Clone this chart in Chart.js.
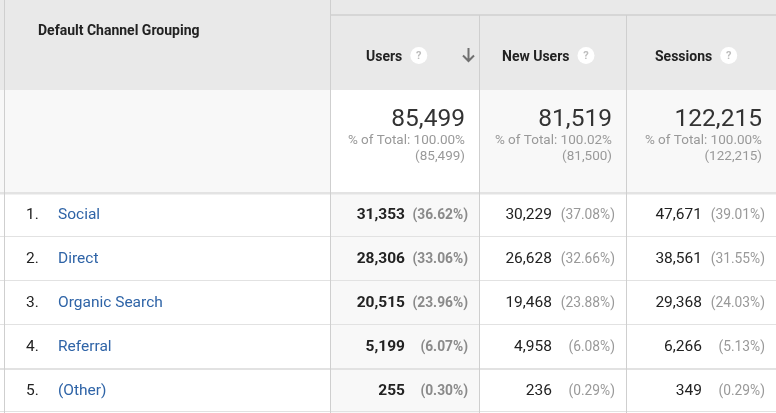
<!DOCTYPE html>
<html>
<head>
<meta charset="utf-8">
<script src="https://cdn.jsdelivr.net/npm/chart.js@4.4.1/dist/chart.umd.min.js"></script>
<style>
  html, body { margin: 0; padding: 0; background: #fff; }
  canvas { display: block; }
</style>
</head>
<body>
<canvas id="table" width="776" height="413"></canvas>
<script>
/* GA "Default Channel Grouping" table, drawn on a Chart.js canvas */

// ─── Data ────────────────────────────────────────────────────────────────────

const channels     = ['Social', 'Direct', 'Organic Search', 'Referral', '(Other)'];
const metrics      = ['Users', 'New Users', 'Sessions'];

const users        = [31353, 28306, 20515, 5199, 255];
const usersPct     = [36.62, 33.06, 23.96, 6.07, 0.30];
const newUsers     = [30229, 26628, 19468, 4958, 236];
const newUsersPct  = [37.08, 32.66, 23.88, 6.08, 0.29];
const sessions     = [47671, 38561, 29368, 6266, 349];
const sessionsPct  = [39.01, 31.55, 24.03, 5.13, 0.29];

const totals       = [85499, 81519, 122215];
const totalsPct    = [100.00, 100.02, 100.00];
const siteTotals   = [85499, 81500, 122215];

// ─── Layout / style ──────────────────────────────────────────────────────────

const FONT       = 'Roboto, "Noto Sans", Arial, sans-serif';
const COL_EDGES  = [4, 330, 479, 626, 776];   // left border, then metric columns
const HEADER_TOP = 15;
const HEADER_BOT = 90;
const TOTALS_BOT = 192;
const TEXT_DY    = 1.8;                        // canvas 'middle' sits a bit high for Roboto

const C = {
  headerBg: '#e9e9e9',
  totalsBg: '#f8f8f8',
  sortedBg: '#f8f8f8',
  border:   '#cfcfcf',
  rowLine:  '#e2e2e2',
  text:     '#222222',
  big:      '#333333',
  muted:    '#999999',
  mutedBold:'#8a8a8a',
  link:     '#2f64a7',
};

const fmt = n => n.toLocaleString('en-US');
const pct = p => `(${p.toFixed(2)}%)`;

function text(ctx, str, x, y, font, color, align = 'left') {
  ctx.font = font;
  ctx.fillStyle = color;
  ctx.textAlign = align;
  ctx.textBaseline = 'middle';
  ctx.fillText(str, x, y + TEXT_DY);
  return ctx.measureText(str).width;
}

function hline(ctx, x0, x1, y, w, color) {
  ctx.fillStyle = color;
  ctx.fillRect(x0, y, x1 - x0, w);
}

function vline(ctx, x, y0, y1, color) {
  ctx.fillStyle = color;
  ctx.fillRect(x, y0, 1, y1 - y0);
}

function helpIcon(ctx, cx, cy) {
  ctx.beginPath();
  ctx.arc(cx, cy, 8.5, 0, Math.PI * 2);
  ctx.fillStyle = '#ffffff';
  ctx.fill();
  text(ctx, '?', cx, cy - 1, `bold 11px ${FONT}`, '#bdbdbd', 'center');
}

function sortArrow(ctx, cx, top, bottom) {
  ctx.strokeStyle = '#707070';
  ctx.lineWidth = 2;
  ctx.beginPath();
  ctx.moveTo(cx, top);
  ctx.lineTo(cx, bottom - 1);
  ctx.moveTo(cx - 5.5, bottom - 6.5);
  ctx.lineTo(cx, bottom - 1);
  ctx.lineTo(cx + 5.5, bottom - 6.5);
  ctx.stroke();
}

// ─── Table plugin ────────────────────────────────────────────────────────────

const tablePlugin = {
  id: 'gaTable',
  beforeDraw(chart) {
    const { ctx, width, height } = chart;
    const ys = chart.scales.y;
    const xs = chart.scales.x;
    const colX = COL_EDGES.map(v => xs.getPixelForValue(v));
    const rows = [
      { v: users,    p: usersPct,    bold: true },
      { v: newUsers, p: newUsersPct, bold: false },
      { v: sessions, p: sessionsPct, bold: false },
    ];
    const rowTop = i => ys.getPixelForValue(i - 0.5);
    const dataTop = rowTop(0);
    const dataBot = rowTop(channels.length);

    ctx.save();

    // backgrounds
    ctx.fillStyle = '#ffffff';
    ctx.fillRect(0, 0, width, height);
    ctx.fillStyle = C.headerBg;
    ctx.fillRect(0, 0, width, HEADER_BOT);
    ctx.fillStyle = C.totalsBg;
    ctx.fillRect(0, HEADER_BOT, width, TOTALS_BOT - HEADER_BOT);
    ctx.fillStyle = '#ffffff';
    ctx.fillRect(colX[1], HEADER_BOT, colX[2] - colX[1], TOTALS_BOT - HEADER_BOT);
    ctx.fillStyle = C.sortedBg;
    ctx.fillRect(colX[1], dataTop, colX[2] - colX[1], height - dataTop);

    // horizontal rules
    hline(ctx, colX[1], width, HEADER_TOP - 1, 2, '#d6d6d6');
    for (let i = 1; i < channels.length; i++) {
      const y = Math.round(rowTop(i));
      hline(ctx, 0, width, y, i === 4 ? 2 : 1, C.rowLine);
    }
    hline(ctx, 0, width, Math.round(dataBot) - 1, 1, C.rowLine);
    hline(ctx, 0, width, dataTop, 2.5, '#e3e3e3');

    // vertical rules
    vline(ctx, colX[0], 0, height, C.border);
    vline(ctx, colX[1], 0, height, C.border);
    vline(ctx, colX[2], HEADER_TOP, height, C.border);
    vline(ctx, colX[3], HEADER_TOP, height, C.border);

    // header
    text(ctx, 'Default Channel Grouping', 38, 29.5, `bold 14px ${FONT}`, C.text);
    const labelX = [366, 502, 655];
    metrics.forEach((m, c) => {
      const w = text(ctx, m, labelX[c], 56, `bold 14px ${FONT}`, C.text);
      helpIcon(ctx, labelX[c] + w + 16.5, 55.5);
    });
    sortArrow(ctx, colX[2] - 10.5, 48, 62);

    // totals
    metrics.forEach((m, c) => {
      const right = colX[c + 2] - 14;
      text(ctx, fmt(totals[c]), right, 118.5, `24.5px ${FONT}`, C.big, 'right');
      text(ctx, `% of Total: ${totalsPct[c].toFixed(2)}%`, right, 138.5, `13.5px ${FONT}`, C.muted, 'right');
      text(ctx, `(${fmt(siteTotals[c])})`, right, 155, `13.5px ${FONT}`, C.muted, 'right');
    });

    // data rows
    channels.forEach((name, i) => {
      const y = ys.getPixelForValue(i) - 0.5;
      text(ctx, `${i + 1}.`, 26, y, `15.5px ${FONT}`, C.text);
      text(ctx, name, 58, y, `15.5px ${FONT}`, C.link);
      rows.forEach((r, c) => {
        const pr = colX[c + 2] - 11;
        text(ctx, fmt(r.v[i]), pr - 63, y, `${r.bold ? 'bold ' : ''}15.5px ${FONT}`, C.text, 'right');
        text(ctx, pct(r.p[i]), pr, y + 0.5, `${r.bold ? 'bold ' : ''}13.8px ${FONT}`, r.bold ? C.mutedBold : C.muted, 'right');
      });
    });

    ctx.restore();
  },
};

// ─── Chart ───────────────────────────────────────────────────────────────────

new Chart(document.getElementById('table'), {
  type: 'bar',
  data: { labels: channels, datasets: [] },
  options: {
    indexAxis: 'y',
    responsive: false,
    animation: false,
    devicePixelRatio: 1,
    layout: { padding: { top: TOTALS_BOT, bottom: 1, left: 0, right: 0 } },
    plugins: { legend: { display: false }, tooltip: { enabled: false } },
    scales: {
      y: { type: 'category', offset: true, display: false },
      x: { type: 'linear', min: 0, max: 776, display: false },
    },
  },
  plugins: [tablePlugin],
});
</script>
</body>
</html>
